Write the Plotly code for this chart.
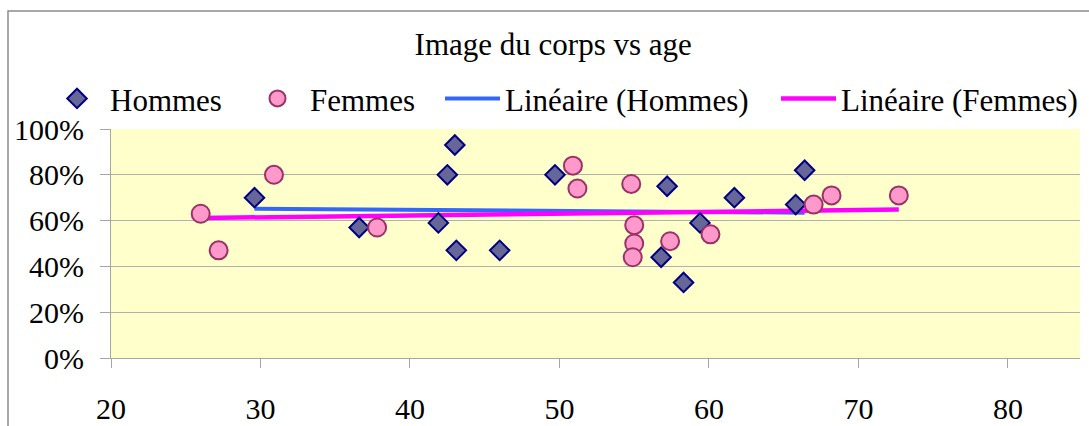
import numpy as np
import plotly.graph_objects as go

# data
hommes_age = [29.6, 36.6, 41.9, 42.5, 43.0, 43.1, 46.0, 49.7, 56.8, 57.2, 58.3, 59.4, 61.7, 65.8, 66.4]
hommes_val = [0.70, 0.57, 0.59, 0.80, 0.93, 0.47, 0.47, 0.80, 0.44, 0.75, 0.33, 0.59, 0.70, 0.67, 0.82]
femmes_age = [26.0, 27.2, 30.9, 37.8, 50.9, 51.2, 54.8, 55.0, 55.0, 54.9, 57.4, 60.1, 67.0, 68.2, 72.7]
femmes_val = [0.63, 0.47, 0.80, 0.57, 0.84, 0.74, 0.76, 0.58, 0.50, 0.44, 0.51, 0.54, 0.67, 0.71, 0.71]

FONT = "Liberation Serif"


def trend(x, y):
    # linear trendline over the data range, like Excel
    a, b = np.polyfit(x, y, 1)
    xs = [min(x), max(x)]
    return xs, [a * v + b for v in xs]


hx, hy = trend(hommes_age, hommes_val)
fx, fy = trend(femmes_age, femmes_val)

fig = go.Figure()
fig.add_trace(go.Scatter(
    x=hx, y=hy, mode="lines", name="Linéaire (Hommes)",
    line=dict(color="#3366FF", width=4), legend="legend4"))
fig.add_trace(go.Scatter(
    x=fx, y=fy, mode="lines", name="Linéaire (Femmes)",
    line=dict(color="#FF00FF", width=4.5), legend="legend5"))
fig.add_trace(go.Scatter(
    x=hommes_age, y=hommes_val, mode="markers", name="Hommes",
    marker=dict(symbol="diamond", size=15, color="#666699",
                line=dict(color="#000080", width=2)),
    legend="legend2"))
fig.add_trace(go.Scatter(
    x=femmes_age, y=femmes_val, mode="markers", name="Femmes",
    marker=dict(symbol="circle", size=18, color="#FF99CC",
                line=dict(color="#993366", width=2)),
    legend="legend3"))

W, H = 1089, 426
L, R, T, B = 111, 9, 129, 68
pw = W - L - R
ph = H - T - B


def lx(px):
    return (px - L) / pw


leg = dict(orientation="h", yanchor="middle", y=1.132, xanchor="left",
           bgcolor="rgba(0,0,0,0)", font=dict(family=FONT, size=31, color="black"),
           itemclick=False)

fig.update_layout(
    width=W, height=H,
    margin=dict(l=L, r=R, t=T, b=B, autoexpand=False),
    showlegend=True,
    paper_bgcolor="white",
    plot_bgcolor="#FFFFCC",
    font=dict(family=FONT, size=30, color="black"),
    title=dict(text="Image du corps vs age", x=0.508, xref="container",
               y=1 - 44 / H, yref="container", xanchor="center", yanchor="middle",
               font=dict(family=FONT, size=31, color="black")),
    legend2=dict(leg, x=lx(44), itemwidth=56),
    legend3=dict(leg, x=lx(245), itemwidth=55),
    legend4=dict(leg, x=lx(440), itemwidth=55),
    legend5=dict(leg, x=lx(776), itemwidth=55),
    xaxis=dict(range=[20, 84.82], dtick=10, tick0=20, showgrid=False,
               showline=True, linecolor="#A6A6A6", linewidth=1,
               ticks="outside", ticklen=9, tickcolor="#A6A6A6",
               ticklabelstandoff=15, zeroline=False,
               tickfont=dict(family=FONT, size=30, color="black")),
    yaxis=dict(range=[0, 1], dtick=0.2, tickformat=".0%", showgrid=True,
               gridcolor="#B0B0B0", gridwidth=1,
               showline=True, linecolor="#A6A6A6", linewidth=1,
               ticks="outside", ticklen=10, tickcolor="#A6A6A6",
               ticklabelstandoff=10, zeroline=False,
               tickfont=dict(family=FONT, size=30, color="black")),
    shapes=[dict(type="rect", xref="paper", yref="paper",
                 x0=lx(8), x1=lx(W + 20),
                 y0=-(B + 40) / ph, y1=1 + (T - 11) / ph,
                 line=dict(color="#8C8C8C", width=1.5), fillcolor="rgba(0,0,0,0)",
                 layer="below")],
)

fig.write_html("out.html", config={"displayModeBar": False},
               post_script="document.body.style.margin='0';")
